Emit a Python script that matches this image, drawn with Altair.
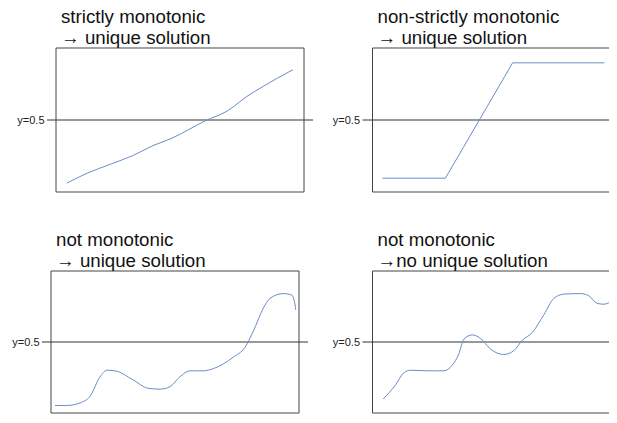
import altair as alt
import pandas as pd

# ---- data (x, y in 0..1 box units) ----
titles = [
    ["strictly monotonic", "→ unique solution"],
    ["non-strictly monotonic", "→ unique solution"],
    ["not monotonic", "→ unique solution"],
    ["not monotonic", "→no unique solution"],
]

p1_x = [0.044, 0.125, 0.218, 0.31, 0.391, 0.472, 0.54, 0.60, 0.69, 0.77, 0.835, 0.89, 0.955]
p1_y = [0.062, 0.13, 0.192, 0.253, 0.322, 0.377, 0.438, 0.493, 0.562, 0.664, 0.733, 0.788, 0.849]

p2_x = [0.04, 0.294, 0.565, 0.935]
p2_y = [0.096, 0.096, 0.897, 0.897]

p3_x = [0.016, 0.063, 0.117, 0.157, 0.198, 0.225, 0.258, 0.332, 0.392, 0.44, 0.48, 0.52,
        0.56, 0.614, 0.654, 0.735, 0.782, 0.816, 0.856, 0.883, 0.937, 0.971, 0.984, 0.987]
p3_y = [0.053, 0.053, 0.071, 0.117, 0.255, 0.301, 0.297, 0.232, 0.174, 0.168, 0.186, 0.255,
        0.297, 0.297, 0.312, 0.393, 0.462, 0.577, 0.738, 0.807, 0.841, 0.830, 0.761, 0.726]

p4_x = [0.043, 0.093, 0.126, 0.153, 0.221, 0.288, 0.321, 0.348, 0.368, 0.402, 0.435, 0.476,
        0.529, 0.570, 0.604, 0.644, 0.691, 0.731, 0.771, 0.839, 0.872, 0.906, 0.933, 0.967, 0.980]
p4_y = [0.099, 0.198, 0.283, 0.301, 0.297, 0.297, 0.336, 0.416, 0.519, 0.550, 0.526, 0.450,
        0.412, 0.439, 0.512, 0.566, 0.692, 0.807, 0.837, 0.841, 0.826, 0.772, 0.766, 0.795, 0.819]

threshold = [0.5]
threshold_label = "y=0.5"

FONT = "Liberation Sans"
BOXW = 248
CURVE = "#6a8cc7"


def panel(xs, ys, title, interp, height, shift, label_pad, rule_left, title_dx, min_extent):
    df = pd.DataFrame({"x": xs, "y": ys})
    rule_df = pd.DataFrame({"y": threshold})
    xscale = alt.Scale(domain=[0, 1], range=[shift, shift + BOXW])
    yscale = alt.Scale(domain=[0, 1])
    yaxis = alt.Axis(values=threshold, labelExpr=f"'{threshold_label}'", title=None,
                     domain=False, ticks=False, grid=False, labelPadding=label_pad,
                     labelFontSize=11, labelFont=FONT, labelColor="#222",
                     minExtent=min_extent, maxExtent=200)
    box = alt.Chart(pd.DataFrame({"k": [0]})).mark_rect(
        fillOpacity=0, stroke="#444", strokeWidth=1
    ).encode(
        x=alt.X(datum=0, scale=xscale, axis=None),
        x2=alt.X2(datum=1),
        y=alt.Y(datum=0, scale=yscale, axis=yaxis),
        y2=alt.Y2(datum=1),
    )
    rule = alt.Chart(rule_df).mark_rule(color="#333", strokeWidth=1).encode(
        y=alt.Y("y:Q", scale=yscale, axis=yaxis),
        x=alt.value(rule_left),
        x2=alt.value(shift + BOXW + 9),
    )
    line = alt.Chart(df).mark_line(color=CURVE, strokeWidth=1, interpolate=interp).encode(
        x=alt.X("x:Q", scale=xscale, axis=None),
        y=alt.Y("y:Q", scale=yscale, axis=yaxis),
    )
    return alt.layer(box, rule, line).properties(
        width=shift + BOXW, height=height,
        title=alt.TitleParams(text=title, anchor="start", frame="group", dx=title_dx,
                              fontSize=18.7, font=FONT, fontWeight="normal",
                              color="#111", lineHeight=20.5, offset=0),
    )


row1 = alt.hconcat(
    panel(p1_x, p1_y, titles[0], "monotone", 144, 5, 7, -4, 10, 10),
    panel(p2_x, p2_y, titles[1], "linear", 144, 0, 13, -10, 5, 41),
    spacing=17.5,
)
row2 = alt.hconcat(
    panel(p3_x, p3_y, titles[2], "monotone", 142, 0, 12, -9, 5, 10),
    panel(p4_x, p4_y, titles[3], "monotone", 142, 0, 13, -10, 5, 41),
    spacing=22.5,
)

# The reference is cropped at its right edge: a fixed-size canvas
# (autosize none, zero view size, padding sets the canvas size).
chart = alt.concat(
    row1, row2, columns=1, spacing=38, align="none",
    autosize=alt.AutoSizeParams(type="none"),
    padding={"left": 43, "top": 40, "right": 558, "bottom": 367},
).configure_view(stroke="transparent", strokeWidth=0)

chart.save("out.html", embed_options={"renderer": "svg", "actions": False})
